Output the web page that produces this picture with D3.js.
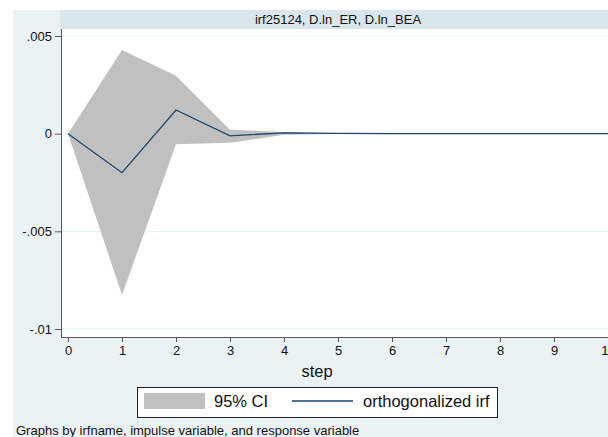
<!DOCTYPE html>
<html>
<head>
<meta charset="utf-8">
<script src="https://cdn.jsdelivr.net/npm/d3@7"></script>
<style>
  body { margin: 0; background: #fff; }
  svg { display: block; font-family: "Liberation Sans", Arial, sans-serif; }
</style>
</head>
<body>
<div id="chart"></div>
<script>
// irf values
const steps = [0, 1, 2, 3, 4, 5, 6, 7, 8, 9, 10];
const irf   = [0, -0.0020, 0.00121, -0.00011, 0.00004, 0.00001, 0, 0, 0, 0, 0];
const upper = [0, 0.00428, 0.00297, 0.00020, 0.00009, 0.00002, 0.000005, 0, 0, 0, 0];
const lower = [0, -0.00826, -0.00054, -0.00047, -0.00005, -0.00002, -0.000005, 0, 0, 0, 0];
const yTicks = [0.005, 0, -0.005, -0.01];
const yTickLabels = [".005", "0", "-.005", "-.01"];

const width = 608, height = 437;
const plot = { left: 61, top: 29, right: 640, bottom: 337 };

const svg = d3.select('#chart')
  .append('svg')
  .attr('width', width)
  .attr('height', height);

// outer graph region
svg.append('rect')
  .attr('x', 13).attr('y', 10)
  .attr('width', width).attr('height', height)
  .attr('fill', '#eaf2f3');

// title strip
svg.append('rect')
  .attr('x', 60).attr('y', 10)
  .attr('width', 556).attr('height', 19)
  .attr('fill', '#d9e6eb');

svg.append('text')
  .attr('x', 338).attr('y', 24)
  .attr('text-anchor', 'middle')
  .attr('font-size', 13)
  .attr('fill', '#111')
  .text('irf25124, D.ln_ER, D.ln_BEA');

// plot region
svg.append('rect')
  .attr('x', plot.left).attr('y', plot.top)
  .attr('width', plot.right - plot.left).attr('height', plot.bottom - plot.top)
  .attr('fill', '#fff');

const x = d3.scaleLinear().domain([0, 10]).range([68, 608]);
const y = d3.scaleLinear().domain([-0.01, 0.005]).range([329, 36]);

// gridlines
svg.append('g')
  .selectAll('line')
  .data(yTicks)
  .join('line')
  .attr('x1', plot.left).attr('x2', plot.right)
  .attr('y1', d => y(d)).attr('y2', d => y(d))
  .attr('stroke', '#e4eef0')
  .attr('stroke-width', 1);

// confidence band
const band = d3.area()
  .x((d, i) => x(steps[i]))
  .y0((d, i) => y(lower[i]))
  .y1((d, i) => y(upper[i]));

svg.append('path')
  .datum(steps)
  .attr('d', band)
  .attr('fill', '#c0c0c0');

// irf line
const line = d3.line()
  .x((d, i) => x(steps[i]))
  .y((d, i) => y(irf[i]));

svg.append('path')
  .datum(steps)
  .attr('d', line)
  .attr('fill', 'none')
  .attr('stroke', '#1a476f')
  .attr('stroke-width', 1.3);

// y axis
const yAxis = g => g
  .attr('transform', `translate(${plot.left},0)`)
  .call(d3.axisLeft(y)
    .tickValues(yTicks)
    .tickFormat((d, i) => yTickLabels[i])
    .tickSize(6)
    .tickPadding(3))
  .call(g => g.select('.domain').remove());

svg.append('g').call(yAxis)
  .call(g => g.selectAll('text').attr('font-size', 13).attr('fill', '#111').attr('font-family', null))
  .call(g => g.selectAll('line').attr('stroke', '#555'));

svg.append('line')
  .attr('x1', plot.left + 0.5).attr('x2', plot.left + 0.5)
  .attr('y1', plot.top).attr('y2', plot.bottom)
  .attr('stroke', '#555');

// x axis
const xAxis = g => g
  .attr('transform', `translate(0,${plot.bottom})`)
  .call(d3.axisBottom(x)
    .tickValues(steps)
    .tickFormat(d3.format('d'))
    .tickSize(5)
    .tickPadding(4))
  .call(g => g.select('.domain').remove());

svg.append('g').call(xAxis)
  .call(g => g.selectAll('text').attr('font-size', 13).attr('fill', '#111').attr('font-family', null))
  .call(g => g.selectAll('line').attr('stroke', '#555'));

svg.append('line')
  .attr('x1', plot.left).attr('x2', plot.right)
  .attr('y1', plot.bottom + 0.5).attr('y2', plot.bottom + 0.5)
  .attr('stroke', '#555');

svg.append('text')
  .attr('x', 317).attr('y', 377)
  .attr('text-anchor', 'middle')
  .attr('font-size', 16.5)
  .attr('fill', '#111')
  .text('step');

// legend
const legend = svg.append('g');
legend.append('rect')
  .attr('x', 137.5).attr('y', 387.5)
  .attr('width', 360).attr('height', 30)
  .attr('fill', '#fff')
  .attr('stroke', '#222');

legend.append('rect')
  .attr('x', 144).attr('y', 393)
  .attr('width', 61).attr('height', 16)
  .attr('fill', '#c0c0c0');

legend.append('text')
  .attr('x', 214).attr('y', 407)
  .attr('font-size', 16.5)
  .attr('fill', '#111')
  .text('95% CI');

legend.append('line')
  .attr('x1', 292).attr('x2', 353)
  .attr('y1', 401).attr('y2', 401)
  .attr('stroke', '#1a476f')
  .attr('stroke-width', 1.3);

legend.append('text')
  .attr('x', 363).attr('y', 407)
  .attr('font-size', 16.5)
  .attr('fill', '#111')
  .text('orthogonalized irf');

// note
svg.append('text')
  .attr('x', 16).attr('y', 435)
  .attr('font-size', 13)
  .attr('fill', '#111')
  .text('Graphs by irfname, impulse variable, and response variable');
</script>
</body>
</html>
